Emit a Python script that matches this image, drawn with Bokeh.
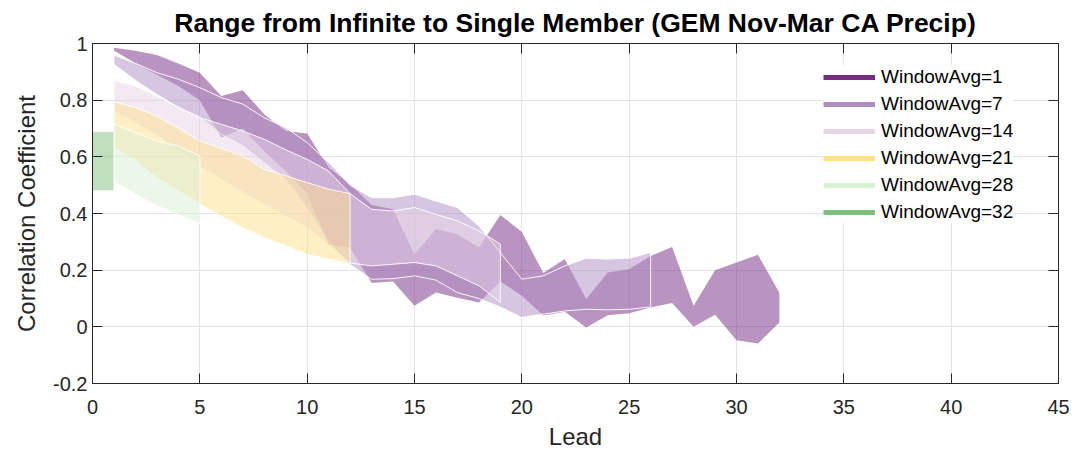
from bokeh.plotting import figure
from bokeh.models import (Range1d, FixedTicker, LinearAxis, Legend, LegendItem)
from bokeh.embed import file_html
from bokeh.resources import INLINE

# ---------------- data ----------------
lead_1 = list(range(1, 33))
w1_upper = [0.985, 0.974, 0.959, 0.929, 0.897, 0.815, 0.835, 0.750, 0.691, 0.682, 0.562, 0.503,
            0.430, 0.415, 0.256, 0.345, 0.327, 0.280, 0.395, 0.335, 0.190, 0.239, 0.098, 0.192,
            0.203, 0.250, 0.282, 0.074, 0.200, 0.227, 0.254, 0.120]
w1_lower = [0.975, 0.930, 0.890, 0.850, 0.800, 0.668, 0.700, 0.620, 0.550, 0.470, 0.290, 0.280,
            0.155, 0.160, 0.074, 0.121, 0.103, 0.086, 0.160, 0.110, 0.040, 0.053, -0.002, 0.041,
            0.048, 0.068, 0.084, 0.000, 0.043, -0.047, -0.059, 0.015]

lead_7 = list(range(1, 27))
w7_upper = [0.959, 0.930, 0.897, 0.874, 0.844, 0.809, 0.786, 0.738, 0.703, 0.650, 0.580, 0.500,
            0.456, 0.456, 0.468, 0.444, 0.421, 0.356, 0.262, 0.168, 0.180, 0.215, 0.242, 0.239,
            0.242, 0.262]
w7_lower = [0.927, 0.870, 0.820, 0.775, 0.740, 0.680, 0.640, 0.580, 0.520, 0.420, 0.300, 0.220,
            0.168, 0.170, 0.180, 0.165, 0.121, 0.100, 0.070, 0.033, 0.045, 0.056, 0.062, 0.060,
            0.062, 0.070]

lead_14 = list(range(1, 20))
w14_upper = [0.870, 0.850, 0.815, 0.774, 0.738, 0.715, 0.691, 0.662, 0.625, 0.591, 0.550, 0.470,
             0.415, 0.409, 0.421, 0.397, 0.374, 0.339, 0.292]
w14_lower = [0.762, 0.720, 0.675, 0.620, 0.565, 0.520, 0.475, 0.433, 0.390, 0.350, 0.290, 0.225,
             0.215, 0.221, 0.227, 0.215, 0.180, 0.145, 0.086]

lead_21 = list(range(1, 13))
w21_upper = [0.795, 0.774, 0.744, 0.701, 0.656, 0.630, 0.603, 0.556, 0.533, 0.509, 0.486, 0.470]
w21_lower = [0.633, 0.585, 0.527, 0.480, 0.433, 0.390, 0.350, 0.315, 0.286, 0.256, 0.239, 0.223]

lead_28 = list(range(1, 6))
w28_upper = [0.715, 0.685, 0.656, 0.638, 0.603]
w28_lower = [0.515, 0.468, 0.427, 0.397, 0.364]

lead_32 = [0, 1]
w32_upper = [0.689, 0.689]
w32_lower = [0.480, 0.480]

series_names = ["WindowAvg=1", "WindowAvg=7", "WindowAvg=14", "WindowAvg=21", "WindowAvg=28", "WindowAvg=32"]
series_colors = ["#762a83", "#af8dc3", "#e7d4e8", "#fee08b", "#d9f0d3", "#7fbf7b"]

x_ticks = [0, 5, 10, 15, 20, 25, 30, 35, 40, 45]
y_ticks = [-0.2, 0, 0.2, 0.4, 0.6, 0.8, 1]
y_tick_labels = ["-0.2", "0", "0.2", "0.4", "0.6", "0.8", "1"]

title_text = "Range from Infinite to Single Member (GEM Nov-Mar CA Precip)"
x_label = "Lead"
y_label = "Correlation Coefficient"

# ---------------- figure ----------------
FONT = "Liberation Sans"
AX = "#262626"

p = figure(width=1076, height=452, output_backend="svg", toolbar_location=None,
           x_range=Range1d(0, 45), y_range=Range1d(-0.2, 1),
           min_border_left=92, min_border_right=18, min_border_top=42, min_border_bottom=69)

p.title.text = title_text
p.title.align = "center"
p.title.text_font = FONT
p.title.text_font_size = "26.5px"
p.title.text_font_style = "bold"
p.title.text_color = "#000000"
p.title.standoff = 11

p.background_fill_color = "white"
p.border_fill_color = "white"
p.outline_line_color = AX
p.outline_line_width = 1

for g in (p.xgrid[0], p.ygrid[0]):
    g.grid_line_color = "#e3e3e3"
    g.grid_line_width = 1
p.xgrid.ticker = FixedTicker(ticks=x_ticks)
p.ygrid.ticker = FixedTicker(ticks=y_ticks)


def style_axis(ax, ticks):
    ax.ticker = FixedTicker(ticks=ticks)
    ax.axis_line_color = AX
    ax.major_tick_line_color = AX
    ax.major_tick_in = 10
    ax.major_tick_out = 0
    ax.minor_tick_line_color = None
    ax.major_label_text_font = FONT
    ax.major_label_text_font_size = "20px"
    ax.major_label_text_color = AX
    ax.axis_label_text_font = FONT
    ax.axis_label_text_font_size = "24px"
    ax.axis_label_text_font_style = "normal"
    ax.axis_label_text_color = AX


xa = p.xaxis[0]
style_axis(xa, x_ticks)
xa.axis_label = x_label
xa.major_label_standoff = 16
xa.axis_label_standoff = 6

ya = p.yaxis[0]
style_axis(ya, y_ticks)
ya.axis_label = y_label
ya.major_label_standoff = 5
ya.axis_label_standoff = 10
ya.major_label_overrides = {t: s for t, s in zip(y_ticks, y_tick_labels)}

# box axes (ticks only, labels not drawn)
top_ax = LinearAxis()
style_axis(top_ax, x_ticks)
top_ax.major_label_text_font_size = "0px"
top_ax.major_label_text_color = None
top_ax.major_label_standoff = 0
p.add_layout(top_ax, "above")

right_ax = LinearAxis()
style_axis(right_ax, y_ticks)
right_ax.major_label_text_font_size = "0px"
right_ax.major_label_text_color = None
right_ax.major_label_standoff = 0
p.add_layout(right_ax, "right")

# ---------------- bands ----------------
bands = [
    (lead_1, w1_upper, w1_lower, None),
    (lead_7, w7_upper, w7_lower, "white"),
    (lead_14, w14_upper, w14_lower, "white"),
    (lead_21, w21_upper, w21_lower, "white"),
    (lead_28, w28_upper, w28_lower, "white"),
    (lead_32, w32_upper, w32_lower, "white"),
]
for (xs, hi, lo, edge), col in zip(bands, series_colors):
    px = list(xs) + list(xs)[::-1]
    py = list(hi) + list(lo)[::-1]
    p.patch(px, py, fill_color=col, fill_alpha=0.5, line_color=edge,
            line_width=1, line_alpha=0.9 if edge else 0)

# ---------------- legend (line keys only, no data drawn) ----------------
nan = float("nan")
items = []
for name, col in zip(series_names, series_colors):
    r = p.line(x=[nan], y=[nan], line_color=col, line_width=5)
    items.append(LegendItem(label=name, renderers=[r]))

legend = Legend(items=items, location=(731, 160),
                label_text_font=FONT, label_text_font_size="19px", label_text_color="#000000",
                glyph_width=52, glyph_height=20, label_height=20, label_standoff=6,
                spacing=5, padding=8, margin=0,
                border_line_color=None, background_fill_color="white", background_fill_alpha=1.0)
p.add_layout(legend, "center")

open("out.html", "w").write(file_html(p, INLINE))
